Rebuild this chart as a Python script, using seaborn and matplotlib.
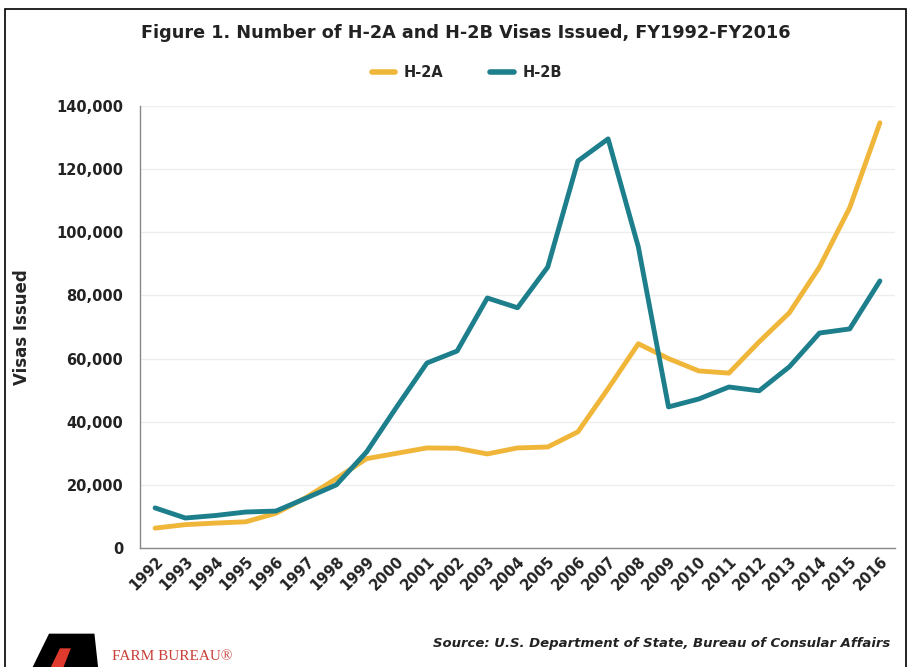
import pandas as pd
import matplotlib
matplotlib.use("Agg")
import matplotlib.pyplot as plt
import seaborn as sns
from matplotlib.patches import Rectangle, Polygon

sns.set_theme(style="whitegrid")
plt.rcParams["font.family"] = ["DejaVu Sans"]

# -----------------------------
# Data
# -----------------------------
years = [str(y) for y in range(1992, 2017)]
h2a = [6300, 7400, 7900, 8300, 11000, 16000, 22000, 28300, 30000, 31700,
       31600, 29800, 31700, 32000, 36800, 50500, 64700, 60000, 56100, 55400,
       65300, 74500, 89000, 107800, 134700]
h2b = [12700, 9500, 10300, 11400, 11700, 15800, 20000, 30400, 44700, 58600,
       62400, 79200, 76100, 89000, 122600, 129600, 95400, 44700, 47200, 51000,
       49800, 57400, 68100, 69400, 84600]

df = pd.DataFrame({"Year": years * 2,
                   "Visas": h2a + h2b,
                   "Type": ["H-2A"] * len(years) + ["H-2B"] * len(years)})

palette = {"H-2A": "#F0B63A", "H-2B": "#1E7F8C"}

# -----------------------------
# Plot
# -----------------------------
fig = plt.figure(figsize=(9.08, 6.67), dpi=100)
ax = fig.add_axes([0.1542, 0.1784, 0.8315, 0.6626])

sns.lineplot(data=df, x="Year", y="Visas", hue="Type", palette=palette,
             linewidth=3.5, ax=ax, sort=False)

ax.set_xlim(-0.5, len(years) - 0.5)
ax.set_ylim(0, 140000)
ax.set_yticks(range(0, 140001, 20000))
ax.set_yticklabels([f"{v:,}" for v in range(0, 140001, 20000)],
                   fontsize=10.5, fontweight="bold", color="#222222")
ax.set_xticks(range(len(years)))
ax.set_xticklabels(years, rotation=45, ha="right", rotation_mode="anchor",
                   fontsize=10.5, fontweight="bold", color="#222222")
ax.tick_params(axis="y", pad=12, length=0)
ax.tick_params(axis="x", pad=4, length=0)
ax.set_xlabel("")
ax.set_ylabel("Visas Issued", fontsize=12, fontweight="bold")
ax.yaxis.set_label_coords(-0.145, 0.5)

ax.grid(axis="x", visible=False)
ax.grid(axis="y", color="#EEEEEE", linewidth=1)
for side in ["top", "right"]:
    ax.spines[side].set_visible(False)
ax.spines["left"].set_color("#888888")
ax.spines["bottom"].set_color("#888888")
ax.spines["left"].set_linewidth(1)
ax.spines["bottom"].set_linewidth(1)

leg = ax.legend(loc="center", bbox_to_anchor=(0.433, 1.075), ncol=2,
                frameon=False, handlelength=1.6, columnspacing=3.2,
                handletextpad=0.6, prop={"weight": "bold", "size": 10.5})
for line in leg.get_lines():
    line.set_linewidth(4)

fig.text(0.513, 0.950, "Figure 1. Number of H-2A and H-2B Visas Issued, FY1992-FY2016",
         ha="center", va="center", fontsize=12.7, fontweight="bold", color="#222222")

fig.text(0.98, 0.035, "Source: U.S. Department of State, Bureau of Consular Affairs",
         ha="right", va="center", fontsize=9.5, fontweight="bold", style="italic",
         color="#222222")

# Farm Bureau logo (simple drawing)
fig.patches.append(Polygon([[0.036, 0.0], [0.054, 0.05], [0.104, 0.05], [0.108, 0.0]],
                           closed=True, transform=fig.transFigure,
                           facecolor="black", edgecolor="none"))
fig.patches.append(Polygon([[0.056, 0.0], [0.066, 0.028], [0.078, 0.028], [0.070, 0.0]],
                           closed=True, transform=fig.transFigure,
                           facecolor="#E03A2E", edgecolor="none"))
fig.text(0.123, 0.006, "FARM BUREAU\u00ae", ha="left", va="bottom", fontsize=11,
         family="Liberation Serif", color="#C8403A")

# Outer frame
fig.patches.append(Rectangle((0.006, -0.01), 0.992, 0.997, transform=fig.transFigure,
                             fill=False, edgecolor="black", linewidth=1.2))

plt.savefig("out.png", dpi=100)
plt.close()
